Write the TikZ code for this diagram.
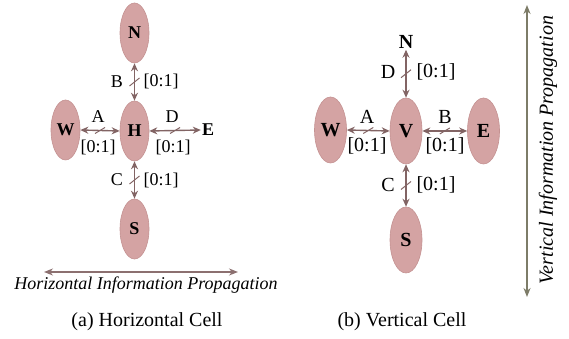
\documentclass[tikz,border=0pt]{standalone}
\usepackage{fontspec}
\setmainfont{Liberation Serif}
\usetikzlibrary{shapes.geometric,arrows.meta,calc}
\definecolor{cellfill}{RGB}{212,163,163}
\definecolor{celldraw}{RGB}{196,146,146}
\definecolor{arrcol}{RGB}{130,100,100}
\definecolor{hcol}{RGB}{140,112,112}
\definecolor{vcol}{RGB}{125,124,104}
\tikzset{
  cellL/.style={ellipse, fill=cellfill, draw=celldraw, line width=0.6pt, minimum width=29pt, minimum height=60pt, inner sep=0pt, font=\fontsize{18}{18}\selectfont\bfseries},
  cellR/.style={ellipse, fill=cellfill, draw=celldraw, line width=0.6pt, minimum width=32pt, minimum height=66pt, inner sep=0pt, font=\fontsize{20}{20}\selectfont\bfseries},
  lblL/.style={font=\fontsize{18}{18}\selectfont, inner sep=0pt},
  lblR/.style={font=\fontsize{20}{20}\selectfont, inner sep=0pt},
  link/.style={draw=arrcol, line width=1.4pt, {Stealth[length=8pt,width=7pt]}-{Stealth[length=8pt,width=7pt]}},
  slash/.style={draw=arrcol, line width=1pt},
}
\begin{document}
\begin{tikzpicture}[x=1pt,y=1pt]
\useasboundingbox (0,0) rectangle (569,339);
% ---- left: horizontal cell
\node[cellL] (lN) at (134.5,306) {N};
\node[cellL] (lH) at (134.5,208) {H};
\node[cellL] (lW) at (65.5,209) {W};
\node[cellL] (lS) at (134.5,110) {S};
\node[font=\fontsize{18}{18}\selectfont\bfseries, inner sep=1pt] (lE) at (208,209) {E};
\draw[link] (lN.south) -- (lH.north);
\draw[link] (lW.east) -- (lH.west);
\draw[link] (lH.east) -- (lE.west);
\draw[link] (lH.south) -- (lS.north);
\draw[slash] ($(lN.south)!0.5!(lH.north)$) +(-5,-4) -- +(5,4);
\draw[slash] ($(lW.east)!0.5!(lH.west)$) +(-5,-3) -- +(5,3);
\draw[slash] ($(lH.east)!0.5!(lE.west)$) +(-5,-3) -- +(5,3);
\draw[slash] ($(lH.south)!0.5!(lS.north)$) +(-5,-4) -- +(5,4);
\node[lblL] (lB) at (117,257) {B};
\node[lblL] (lBv) at (161,258) {[0:1]};
\node[lblL] (lA) at (98,222) {A};
\node[lblL] (lAv) at (98,192) {[0:1]};
\node[lblL] (lD) at (172,222) {D};
\node[lblL] (lDv) at (173,192) {[0:1]};
\node[lblL] (lC) at (117,159) {C};
\node[lblL] (lCv) at (161,159) {[0:1]};
\coordinate (hl) at (44,67);
\coordinate (hr) at (238,67);
\draw[draw=hcol, line width=1.4pt, {Stealth[length=9pt,width=7pt]}-{Stealth[length=9pt,width=7pt]}] (hl) -- (hr);
\node[font=\fontsize{18}{18}\selectfont\itshape, inner sep=0pt] (htxt) at (146,54) {Horizontal Information Propagation};
\node[font=\fontsize{20}{20}\selectfont, inner sep=0pt] (capa) at (147,17) {(a) Horizontal Cell};
% ---- right: vertical cell
\node[font=\fontsize{20}{20}\selectfont\bfseries, inner sep=1pt] (rN) at (406,297) {N};
\node[cellR] (rV) at (406,208) {V};
\node[cellR] (rW) at (330.5,209) {W};
\node[cellR] (rE) at (483.5,208) {E};
\node[cellR] (rS) at (406,99) {S};
\draw[link] (rN.south) -- (rV.north);
\draw[link] (rW.east) -- (rV.west);
\draw[link] (rV.east) -- (rE.west);
\draw[link] (rV.south) -- (rS.north);
\draw[slash] ($(rN.south)!0.5!(rV.north)$) +(-5,-4) -- +(5,4);
\draw[slash] ($(rW.east)!0.5!(rV.west)$) +(-5,-3) -- +(5,3);
\draw[slash] ($(rV.east)!0.5!(rE.west)$) +(-5,-3) -- +(5,3);
\draw[slash] ($(rV.south)!0.5!(rS.north)$) +(-5,-4) -- +(5,4);
\node[lblR] (rD) at (388,267) {D};
\node[lblR] (rDv) at (436,267) {[0:1]};
\node[lblR] (rA) at (367,222) {A};
\node[lblR] (rAv) at (367,193) {[0:1]};
\node[lblR] (rB) at (445,222) {B};
\node[lblR] (rBv) at (445,193) {[0:1]};
\node[lblR] (rC) at (388,154) {C};
\node[lblR] (rCv) at (436,154) {[0:1]};
\coordinate (vt) at (527,334);
\coordinate (vb) at (527,42);
\draw[draw=vcol, line width=1.4pt, {Stealth[length=9pt,width=7pt]}-{Stealth[length=9pt,width=7pt]}] (vb) -- (vt);
\node[font=\fontsize{20}{20}\selectfont\itshape, inner sep=0pt, rotate=90] (vtxt) at (548,189) {Vertical Information Propagation};
\node[font=\fontsize{20}{20}\selectfont, inner sep=0pt] (capb) at (402,17) {(b) Vertical Cell};
\end{tikzpicture}
\end{document}
